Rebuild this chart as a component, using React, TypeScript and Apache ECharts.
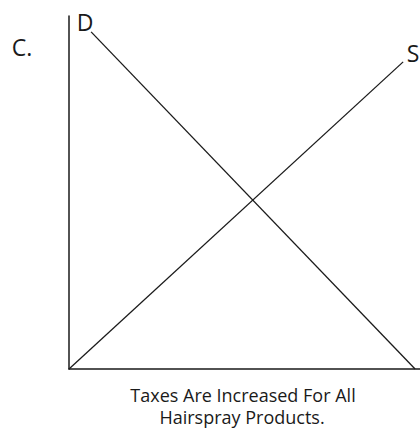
import React, { useEffect, useRef } from "react";
import * as echarts from "echarts";

const demandX = [6.3, 98.6];
const demandY = [95.5, 0];
const supplyX = [0, 95.2];
const supplyY = [0, 87];
const curveNames = ["D", "S"];
const panelLabel = "C.";
const captionLines = ["Taxes Are Increased For All", "Hairspray Products."];

export default function App() {
  const ref = useRef<HTMLDivElement>(null);
  useEffect(() => {
    if (!ref.current) return;
    const chart = echarts.init(ref.current, undefined, { renderer: "svg" });
    const axisCommon = {
      type: "value" as const,
      min: 0,
      max: 100,
      axisLine: { show: true, lineStyle: { color: "#1a1a1a", width: 1.5 } },
      axisTick: { show: false },
      axisLabel: { show: false },
      splitLine: { show: false },
    };
    const font = "'Open Sans', sans-serif";
    chart.setOption({
      animation: false,
      backgroundColor: "#ffffff",
      grid: { left: 69, top: 16, width: 351, height: 353 },
      xAxis: axisCommon,
      yAxis: axisCommon,
      series: [
        {
          name: curveNames[0],
          type: "line",
          symbol: "none",
          data: demandX.map((x, i) => [x, demandY[i]]),
          lineStyle: { color: "#1a1a1a", width: 1.3 },
        },
        {
          name: curveNames[1],
          type: "line",
          symbol: "none",
          data: supplyX.map((x, i) => [x, supplyY[i]]),
          lineStyle: { color: "#1a1a1a", width: 1.3 },
        },
      ],
      graphic: [
        {
          type: "text",
          x: 85,
          y: 22,
          style: { text: curveNames[0], font: `23px ${font}`, fill: "#1a1a1a", textAlign: "center", textVerticalAlign: "middle" },
        },
        {
          type: "text",
          x: 413,
          y: 53,
          style: { text: curveNames[1], font: `23px ${font}`, fill: "#1a1a1a", textAlign: "center", textVerticalAlign: "middle" },
        },
        {
          type: "text",
          x: 22,
          y: 47,
          style: { text: panelLabel, font: `23px ${font}`, fill: "#1a1a1a", textAlign: "center", textVerticalAlign: "middle" },
        },
        {
          type: "text",
          x: 243,
          y: 395,
          style: { text: captionLines[0], font: `18px ${font}`, lineHeight: 20, fill: "#1a1a1a", textAlign: "center", textVerticalAlign: "middle" },
        },
        {
          type: "text",
          x: 242,
          y: 417,
          style: { text: captionLines[1], font: `18px ${font}`, lineHeight: 20, fill: "#1a1a1a", textAlign: "center", textVerticalAlign: "middle" },
        },
      ],
    });
    return () => chart.dispose();
  }, []);
  return <div ref={ref} style={{ width: 420, height: 439, position: "absolute", left: 0, top: 0 }} />;
}
